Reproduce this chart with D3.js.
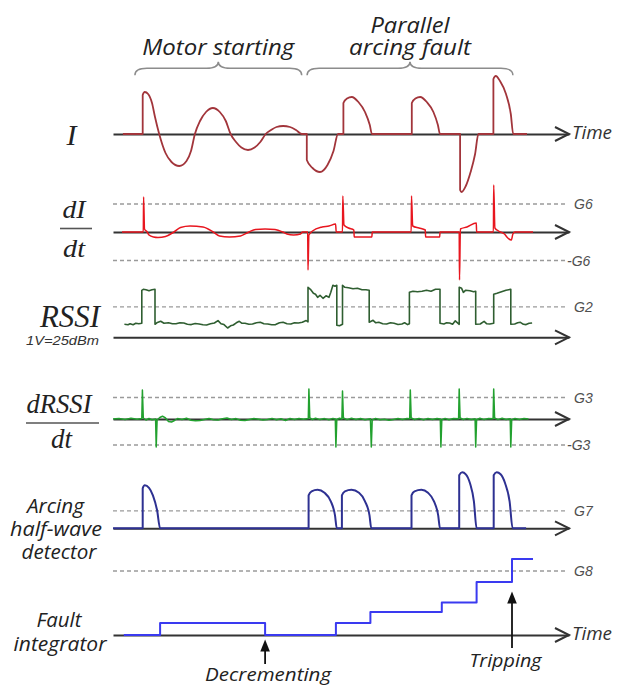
<!DOCTYPE html>
<html><head><meta charset="utf-8">
<script src="https://cdn.jsdelivr.net/npm/d3@7"></script>
<style>body{margin:0;background:#fff}svg{display:block}</style>
</head><body>
<svg id="chart" width="617" height="688"></svg>
<script>
// ---------------- DATA (time in arbitrary units, amplitude in arbitrary units) ----------------
const currentI = [
 [3.3,0],[9.9,0],[9.9,39],[10.6,42],[11.7,40],[13,31],[14,17],[15.4,0],
 [17.5,-19],[19.5,-28],[22.1,-32],[24.5,-27],[26,-17],[27.3,0],
 [29,13],[31,22],[33.3,26],[35.6,22],[37.6,13],[39.2,0],
 [41,-8],[42.8,-13.5],[45,-16],[47.2,-13.5],[49.1,-8],[50.9,0],
 [52.7,4],[54.5,7],[56.7,8],[59,7],[61,4],[62.9,0],
 [64.6,0],[64.6,-26],[66.5,-34],[69,-38],[71.5,-31],[73.5,-17],[75,0],
 [76.8,0],[76.8,31],[78,35.5],[79.6,37],[81.8,32],[84,22],[85.6,9],[86.3,0],
 [99.6,0],[99.6,31],[100.8,35.5],[102.4,37],[104.6,32],[106.8,22],[108.3,9],[109,0],
 [115.7,0],[115.7,-56],[116.2,-58],[117.6,-52],[119.2,-38],[120.7,-20],[121.8,0],
 [126.8,0],[126.8,55],[127.6,58],[129,53],[131,40],[132.6,20],[133.4,0],
 [138,0]
];
const dIdt = [
 [3,0],[10.1,0],[10.2,35],[10.5,3],[11.4,0],[12,-3],[13.5,-5],[15,-5.5],[17.5,-4.5],[20.3,0],
 [22.5,4.5],[25.7,6],[30,5],[33.4,0],[35.5,-4],[38.8,-5],[42.5,-4],[45.3,0],
 [47.5,2.5],[50.7,3],[54,2.5],[56.6,0],[58,-2],[60.2,-3],[62.5,-2],[63.2,0],
 [64.9,0],[65,-38],[65.3,-3],[66.5,1],[69.7,5],[72,6],[74.2,8],[74.4,0],
 [76.5,0],[76.6,36],[77,7],[78.5,4],[80.3,2],[80.4,-5],[86.3,-5],[86.4,0],
 [99.4,0],[99.5,36],[99.9,6],[102,4],[104.1,2],[104.2,-5],[108.9,-5],[109,0],
 [115.4,0],[115.5,-48],[115.8,3],[118,5],[121.1,9],[121.2,0],
 [126.8,0],[126.9,47],[127.3,4],[128.5,1],[130.5,-2],[131.6,-6],[132.8,-8],[133.3,-2],[134,0],[140,0]
];
const rssi = [
 [3.8,13],[5,12.5],[5.7,13.5],[6.7,12.5],[7.6,14],[8.6,13.5],[9.6,14],
 [9.6,47],[10.1,48],[11,47.5],[12,46.5],[13,47.5],[14,48],
 [14,13],[14.6,14.5],[15.9,16],[17,14],[18.5,14.5],[19.8,13.5],[21,13.5],[22.3,14.5],[23.6,14.3],[24.8,13],
 [26.1,12.7],[27.4,13.8],[28.7,13.3],[30,12.5],[31.2,12.3],[32.5,13.5],[33.8,14.3],[35,16.7],[36,13.5],
 [37,12.7],[38.2,9.3],[39.2,11.5],[40.1,12.3],[41.1,14.5],[42.1,16],[43,14],[44,14],[45.3,13],[46.5,13.3],
 [47.8,14.5],[49.1,15],[50.3,13.5],[51.6,13.3],[52.9,12.5],[54.2,12.7],[55.5,14.5],[56.7,15],[58,13.5],
 [59.3,13.3],[60.5,14.5],[61.8,14.3],[63.1,15],[64.4,16.7],[65,15.5],
 [65,50],[65.8,48],[66.8,44],[67.5,43],[68.2,40],[69,42],[70,39],[71,41.5],[72,40],[72.6,45],[73.3,52],[74,51],[74.6,52],
 [74.6,12],[75.5,11.5],[76.5,13],
 [76.5,52],[77.3,50],[78.5,49.5],[80,48.5],[81.5,49],[83,47.5],[84.3,47.5],[85.4,47],
 [85.4,15],[86.7,17],[87.6,14.5],[88.6,15],[89.9,13.5],[91.2,13.3],[92.5,14.5],[93.7,14],[95,12.8],[96.3,13.3],[97.2,14.5],[98.2,12.7],[98.8,13.5],
 [98.8,45],[100,46],[101.5,45.5],[103,46],[104.5,47],[106,46],[107.5,48],[109,48],
 [109,14],[110.3,13.3],[111.2,14.5],[112.2,14.3],[113.2,13],[114.1,16.5],[115.4,13],
 [115.4,50],[116.2,49],[116.8,45],[117.5,47],[119,46.5],[120.2,45.5],[120.9,46],
 [120.9,13],[122.4,13.3],[123.7,16],[124.6,13.5],[125.6,13.3],[126.9,14],
 [126.9,43],[128,44],[129.5,45.5],[131,47],[132.6,48],
 [132.6,13],[133.9,13.3],[134.9,14.5],[135.8,15],[136.8,13],[137.7,12.7],[138.7,14],[139.7,14.3]
];
const dRssi = [
 [0,0],[2,0.5],[4,-0.5],[6,0.8],[8,-0.3],[9.6,0.5],[9.8,29],[10.1,1],[11,-1],[12,0.5],[13,-0.8],[14.2,0],[14.4,-28],[14.7,-1],
 [15.6,1.5],[16.5,2.8],[17.5,1],[18.5,-2.5],[19.5,-3],[20.5,-1.5],[21.5,0.5],[23,-0.5],[24.5,0.8],[26,-1.2],[27.5,-1.8],
 [29,-1.5],[30.5,-0.5],[32,0.5],[33.5,-0.8],[35,-1],[36.5,0.3],[38,1],[39.5,-0.5],[41,0.4],[42.5,-1.3],[44,-1.6],[45.5,-0.6],
 [47,0.4],[48.5,-0.3],[50,-1],[51.5,-0.4],[53,0.6],[54.5,-0.8],[56,0.2],[57.5,-1.5],[59,0.5],[60.5,-0.4],[62,0.6],[63.5,-0.3],
 [65.1,0.5],[65.3,30],[65.6,1],[66.5,-0.5],[67.5,0.8],[69,-0.6],[70.5,0.4],[72,-0.8],[73.3,0.6],[74.1,0],[74.3,-28],[74.6,-0.5],
 [75.5,0.8],[76.3,0],[76.5,28],[76.8,1],[78,-0.6],[79.5,0.7],[81,-0.4],[82.5,0.5],[84,-0.8],[85.8,0.3],[86.1,-28],[86.4,-1],
 [87.5,0.6],[89,-0.8],[90.5,-0.3],[92,-1.2],[93.5,-0.4],[95,0.5],[96.5,-0.6],[98,0.4],[98.9,0.2],[99.1,29],[99.4,1],
 [100.5,-0.5],[102,0.6],[103.5,-0.7],[105,0.4],[106.5,-0.6],[108,0.5],[109.1,0],[109.3,-28],[109.6,-0.8],
 [110.7,0.6],[112,-0.7],[113.5,0.5],[115.2,0.3],[115.4,30],[115.7,1],[116.8,-0.5],[118,0.6],[119.4,-0.5],[120.7,0.2],[120.9,-28],[121.2,-0.8],
 [122.3,0.7],[123.7,-0.6],[125.2,0.5],[126.7,0.2],[126.9,30],[127.2,1],[128.3,-0.6],[129.7,0.7],[131,-0.5],[132.4,0.3],[132.6,-28],[132.9,-0.8],
 [134,0.6],[135.5,-0.5],[137,0.4],[138.5,0]
];
const arcDetector = [
 [0,0],[9.9,0],[9.9,40],[10.6,43],[12,40.5],[13.3,33],[14.7,18],[15.7,0],
 [65.2,0],[65.2,33],[66.2,37],[68.2,38.5],[70.5,35.5],[72.6,27],[74,13],[74.6,0],
 [76.3,0],[76.3,33],[77.3,37],[79.5,38.5],[82,35.5],[84,27],[85.5,13],[86.1,0],
 [99.5,0],[99.5,33],[100.5,37],[102.8,38.5],[105,35.5],[107,27],[108.4,13],[109,0],
 [115.4,0],[115.4,53],[116.4,56],[117.6,54],[119,45],[120.3,27],[121.2,0],
 [126.9,0],[126.9,53],[127.9,56],[129.2,54],[130.7,45],[132.2,27],[133.2,0],
 [137.7,0]
];
const faultIntegrator = [[3.6,0],[15.7,12],[50.7,0],[74.3,12],[85.8,23],[109.6,32.5],[121.2,53],[133,76],[140,76]];
const thresholds = [
 {panel:"dI", label:"G6", value:28},
 {panel:"dI", label:"-G6", value:-28.5},
 {panel:"rssi", label:"G2", value:30.5},
 {panel:"drssi", label:"G3", value:21.5},
 {panel:"drssi", label:"-G3", value:-26},
 {panel:"arc", label:"G7", value:17.5},
 {panel:"fault", label:"G8", value:64}
];
const phases = [
 {lines:["Motor starting"], t0:7.3, t1:62.9},
 {lines:["Parallel","arcing fault"], t0:64.7, t1:133.3}
];
const events = [
 {label:"Decrementing", t:50.7},
 {label:"Tripping", t:133}
];

// ---------------- LAYOUT ----------------
const svg = d3.select("#chart");
const x = d3.scaleLinear().domain([0,152]).range([113,569]);
const panels = {
 I:    {base:134,   data:currentI,       color:"#a2353b", w:1.8, curve:d3.curveMonotoneX, time:true},
 dI:   {base:232,   data:dIdt,           color:"#e8161f", w:1.5, curve:d3.curveMonotoneX},
 rssi: {base:337.3, data:rssi,           color:"#2f5e31", w:1.6, curve:d3.curveLinear},
 drssi:{base:419,   data:dRssi,          color:"#22a12f", w:1.5, curve:d3.curveLinear},
 arc:  {base:528.3, data:arcDetector,    color:"#2e3192", w:2,   curve:d3.curveMonotoneX},
 fault:{base:635,   data:faultIntegrator,color:"#3a3af0", w:2,   curve:d3.curveStepAfter, time:true}
};
Object.values(panels).forEach(p => {
  p.y = d3.scaleLinear().domain([-80,80]).range([p.base+80, p.base-80]);
});

// thresholds (dashed)
thresholds.forEach(d => {
  const p = panels[d.panel], yy = p.y(d.value);
  svg.append("line").attr("x1", x(0)).attr("x2", x(150.7)).attr("y1", yy).attr("y2", yy)
    .attr("stroke","#9a9a9a").attr("stroke-width",1.3).attr("stroke-dasharray","4,3");
  svg.append("text").attr("x", d.label.startsWith("-") ? 567 : 574).attr("y", yy).attr("dy","0.36em")
    .attr("font-family","'Liberation Sans',Arial,sans-serif").attr("font-style","italic")
    .attr("font-size",14).attr("fill","#505050").text(d.label);
});

// axes with arrow heads
Object.values(panels).forEach(p => {
  const g = svg.append("g").attr("transform",`translate(0,${p.base})`)
    .call(d3.axisBottom(x).tickValues([]).tickSizeOuter(0));
  g.select(".domain").attr("stroke","#333").attr("stroke-width",2);
  const tip = x(152);
  svg.append("path").attr("d",`M${tip-14},${p.base-7}L${tip},${p.base}L${tip-14},${p.base+7}`)
    .attr("fill","none").attr("stroke","#333").attr("stroke-width",2).attr("stroke-linejoin","miter");
  if (p.time) {
    svg.append("text").attr("x", tip+3).attr("y", p.base+5)
      .attr("font-family","'Open Sans',sans-serif").attr("font-style","italic").attr("font-size",18)
      .attr("fill","#333").attr("textLength",40).attr("lengthAdjust","spacingAndGlyphs").text("Time");
  }
});

// signals
Object.values(panels).forEach(p => {
  const line = d3.line().x(d => x(d[0])).y(d => p.y(d[1])).curve(p.curve);
  svg.append("path").datum(p.data).attr("d", line).attr("fill","none")
    .attr("stroke", p.color).attr("stroke-width", p.w).attr("stroke-linejoin","round");
});

// braces + phase labels
function bracePath(x0, x1, yb) {
  const pth = d3.path(), xm = (x0+x1)/2;
  pth.moveTo(x0, yb+7);
  pth.quadraticCurveTo(x0, yb, x0+12, yb);
  pth.lineTo(xm-12, yb);
  pth.quadraticCurveTo(xm, yb, xm, yb-6.5);
  pth.quadraticCurveTo(xm, yb, xm+12, yb);
  pth.lineTo(x1-12, yb);
  pth.quadraticCurveTo(x1, yb, x1, yb+7);
  return pth.toString();
}
const phaseWidths = {"Motor starting":152, "Parallel":79, "arcing fault":122};
phases.forEach(ph => {
  svg.append("path").attr("d", bracePath(x(ph.t0), x(ph.t1), 68.3))
    .attr("fill","none").attr("stroke","#8c8c8c").attr("stroke-width",1.5);
  const xm = x((ph.t0+ph.t1)/2);
  ph.lines.forEach((ln,i) => {
    const yb = 55 - (ph.lines.length-1-i)*22.5;
    svg.append("text").attr("x", xm).attr("y", yb).attr("text-anchor","middle")
      .attr("font-family","'Open Sans',sans-serif").attr("font-style","italic").attr("font-size",22)
      .attr("fill","#222").attr("textLength", phaseWidths[ln]).attr("lengthAdjust","spacingAndGlyphs").text(ln);
  });
});

// event arrows
const evLayout = {"Decrementing":{tip:639.5, bottom:664, base:681, w:126, dx:3}, "Tripping":{tip:591.5, bottom:648, base:666.7, w:72, dx:-6.5}};
events.forEach(ev => {
  const L = evLayout[ev.label], xx = x(ev.t);
  svg.append("line").attr("x1",xx).attr("x2",xx).attr("y1",L.tip+8).attr("y2",L.bottom)
    .attr("stroke","#111").attr("stroke-width",1.8);
  svg.append("path").attr("d",`M${xx},${L.tip}L${xx-4.8},${L.tip+12}L${xx+4.8},${L.tip+12}Z`).attr("fill","#111");
  svg.append("text").attr("x", xx + L.dx).attr("y", L.base).attr("text-anchor","middle")
    .attr("font-family","'Open Sans',sans-serif").attr("font-style","italic").attr("font-size",19)
    .attr("fill","#222").attr("textLength",L.w).attr("lengthAdjust","spacingAndGlyphs").text(ev.label);
});

// left labels (serif, math-like)
function serif(txt, cx, yb, size, len) {
  const t = svg.append("text").attr("x",cx).attr("y",yb).attr("text-anchor","middle")
    .attr("font-family","'Liberation Serif','Times New Roman',serif").attr("font-style","italic")
    .attr("font-size",size).attr("fill","#222").text(txt);
  if (len) t.attr("textLength",len).attr("lengthAdjust","spacingAndGlyphs");
}
function bar(x1,x2,yy){ svg.append("line").attr("x1",x1).attr("x2",x2).attr("y1",yy).attr("y2",yy).attr("stroke","#555").attr("stroke-width",1.6); }
serif("I", 71.5, 145, 30);
serif("dI", 74, 218, 26, 23);
bar(60, 92, 228.5);
serif("dt", 74, 256.5, 26, 22);
serif("RSSI", 70, 326.7, 32, 60);
svg.append("text").attr("x",62.5).attr("y",345).attr("text-anchor","middle")
  .attr("font-family","'Liberation Sans',Arial,sans-serif").attr("font-style","italic").attr("font-size",12.5)
  .attr("fill","#333").attr("textLength",73).attr("lengthAdjust","spacingAndGlyphs").text("1V=25dBm");
serif("dRSSI", 59, 413, 28, 65);
bar(26, 99, 423);
serif("dt", 61.5, 448, 28, 21);

// left labels (sans)
function sans(txt, cx, yb, len) {
  svg.append("text").attr("x",cx).attr("y",yb).attr("text-anchor","middle")
    .attr("font-family","'Open Sans',sans-serif").attr("font-style","italic").attr("font-size",20)
    .attr("fill","#222").attr("textLength",len).attr("lengthAdjust","spacingAndGlyphs").text(txt);
}
sans("Arcing", 55.5, 513.3, 57);
sans("half-wave", 56, 535.5, 92);
sans("detector", 59, 558.5, 75);
sans("Fault", 59, 627.3, 45);
sans("integrator", 60, 650.5, 93);
</script>
</body></html>
